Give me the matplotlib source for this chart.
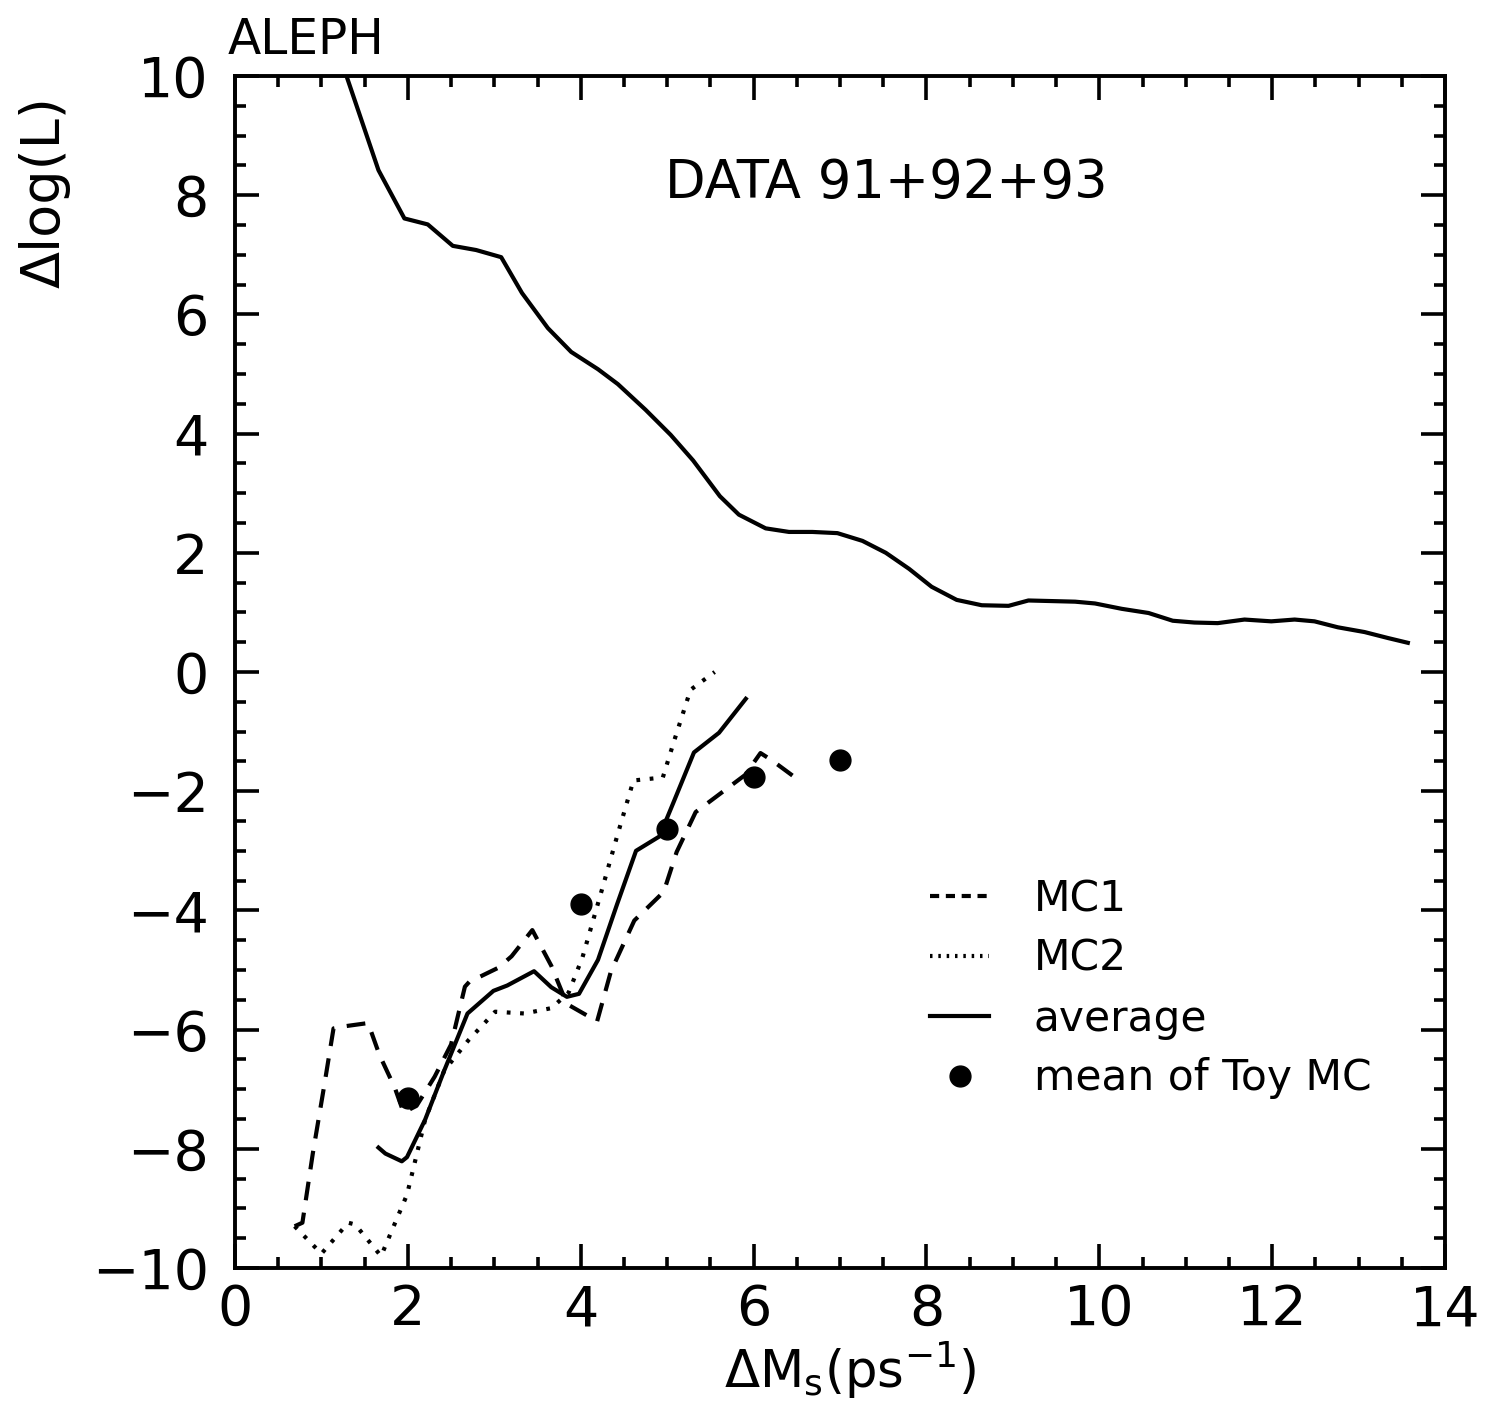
import matplotlib
matplotlib.use("Agg")
import matplotlib.pyplot as plt
from matplotlib.lines import Line2D
from matplotlib.ticker import MultipleLocator

# ---------------- data ----------------
data_x = [1.29, 1.66, 1.96, 2.23, 2.52, 2.79, 3.08, 3.32, 3.62, 3.89, 4.20, 4.43, 4.75,
          5.04, 5.30, 5.61, 5.83, 6.14, 6.41, 6.68, 6.97, 7.26, 7.53, 7.80, 8.06, 8.35,
          8.64, 8.95, 9.18, 9.45, 9.72, 9.95, 10.26, 10.57, 10.85, 11.10, 11.37, 11.68,
          11.99, 12.26, 12.49, 12.76, 13.07, 13.34, 13.57]
data_y = [10.0, 8.42, 7.61, 7.51, 7.15, 7.08, 6.96, 6.36, 5.77, 5.37, 5.08, 4.83, 4.40,
          3.98, 3.55, 2.95, 2.64, 2.41, 2.35, 2.35, 2.33, 2.20, 2.00, 1.73, 1.43, 1.21,
          1.12, 1.11, 1.20, 1.19, 1.18, 1.15, 1.06, 0.99, 0.86, 0.83, 0.82, 0.88,
          0.85, 0.88, 0.85, 0.75, 0.67, 0.57, 0.49]

mc1_x = [0.69, 0.78, 0.90, 1.03, 1.14, 1.29, 1.54, 1.67, 1.85, 1.95, 2.10, 2.31, 2.50,
         2.66, 2.71, 3.05, 3.20, 3.44, 3.66, 3.84, 4.19, 4.35, 4.62, 4.96, 5.11, 5.33,
         5.56, 5.90, 6.08, 6.21, 6.49]
mc1_y = [-9.30, -9.24, -8.08, -6.96, -5.98, -5.94, -5.89, -6.42, -6.98, -7.39, -7.28,
         -6.79, -6.25, -5.28, -5.20, -4.96, -4.77, -4.33, -4.93, -5.57, -5.86, -5.02,
         -4.17, -3.69, -3.02, -2.35, -2.10, -1.73, -1.36, -1.48, -1.78]

mc2_x = [0.69, 1.00, 1.31, 1.39, 1.69, 1.99, 2.20, 2.42, 2.70, 3.01, 3.35, 3.66, 3.86,
         4.02, 4.24, 4.43, 4.61, 4.95, 5.08, 5.27, 5.40, 5.55]
mc2_y = [-9.30, -9.76, -9.24, -9.27, -9.80, -8.77, -7.51, -6.69, -6.18, -5.70, -5.73,
         -5.64, -5.38, -4.79, -3.68, -2.71, -1.82, -1.77, -1.16, -0.30, -0.16, 0.00]

avg_x = [1.66, 1.74, 1.93, 1.99, 2.20, 2.42, 2.69, 2.99, 3.15, 3.46, 3.66, 3.84, 3.98,
         4.20, 4.42, 4.64, 4.91, 5.07, 5.31, 5.60, 5.91]
avg_y = [-7.98, -8.08, -8.21, -8.14, -7.51, -6.69, -5.73, -5.35, -5.26, -5.02, -5.29,
         -5.45, -5.40, -4.83, -3.90, -3.00, -2.76, -2.20, -1.35, -1.02, -0.45]

toy_x = [2, 4, 5, 6, 7]
toy_y = [-7.15, -3.90, -2.63, -1.76, -1.48]

x_ticks = [0, 2, 4, 6, 8, 10, 12, 14]
y_ticks = [-10, -8, -6, -4, -2, 0, 2, 4, 6, 8, 10]
legend_labels = ["MC1", "MC2", "average", "mean of Toy MC"]

# ---------------- style ----------------
FONT = "DejaVu Sans"
plt.rcParams["font.family"] = [FONT]
plt.rcParams["mathtext.fontset"] = "dejavusans"

W, H = 1491, 1405
fig = plt.figure(figsize=(W / 100, H / 100), dpi=100)
ax = fig.add_axes([235 / W, 1 - 1268 / H, 1210 / W, 1192 / H])

lw = 3.0
ax.plot(data_x, data_y, color="black", lw=lw, solid_joinstyle="round")
ax.plot(mc1_x, mc1_y, color="black", lw=lw, linestyle=(0, (4.5, 3.0)))
ax.plot(mc2_x, mc2_y, color="black", lw=lw, linestyle=(0, (0.9, 2.3)))
ax.plot(avg_x, avg_y, color="black", lw=lw, solid_joinstyle="round")
ax.plot(toy_x, toy_y, "o", color="black", ms=15, linestyle="none")

ax.set_xlim(0, 14)
ax.set_ylim(-10, 10)
ax.set_xticks(x_ticks)
ax.set_yticks(y_ticks)
ax.xaxis.set_minor_locator(MultipleLocator(0.5))
ax.yaxis.set_minor_locator(MultipleLocator(0.5))
ax.tick_params(which="both", direction="in", top=True, right=True, width=2.6,
               color="black")
ax.tick_params(which="major", length=17, labelsize=40)
ax.tick_params(which="minor", length=8)
ax.tick_params(axis="y", which="major", pad=19)
ax.tick_params(axis="x", which="major", pad=11)
for s in ax.spines.values():
    s.set_linewidth(2.8)

ax.text(4.98, 8.2, "DATA 91+92+93", fontsize=38, va="center", ha="left")

fig.text(228 / W, 1 - 40 / H, "ALEPH", fontsize=35, va="center", ha="left")
fig.text(45 / W, 1 - 192 / H, "\u0394log(L)", fontsize=39, rotation=90,
         va="center", ha="center")
fig.text(850 / W, 1 - 1370 / H, r"$\Delta$M$_\mathrm{s}$(ps$^{-1}$)", fontsize=37,
         va="center", ha="center")

handles = [
    Line2D([], [], color="black", lw=lw, linestyle=(0, (2.2, 1.6))),
    Line2D([], [], color="black", lw=lw, linestyle=(0, (0.6, 1.4))),
    Line2D([], [], color="black", lw=lw),
    Line2D([], [], color="black", marker="o", ms=15, linestyle="none"),
]
leg = ax.legend(handles, legend_labels, loc="upper left",
                bbox_to_anchor=((930 - 235) / 1210, 1 - (878 - 76) / 1192),
                frameon=False, fontsize=30.5, handlelength=1.4, handletextpad=1.05,
                labelspacing=0.42, borderaxespad=0, borderpad=0)

fig.savefig("out.png", dpi=100)
